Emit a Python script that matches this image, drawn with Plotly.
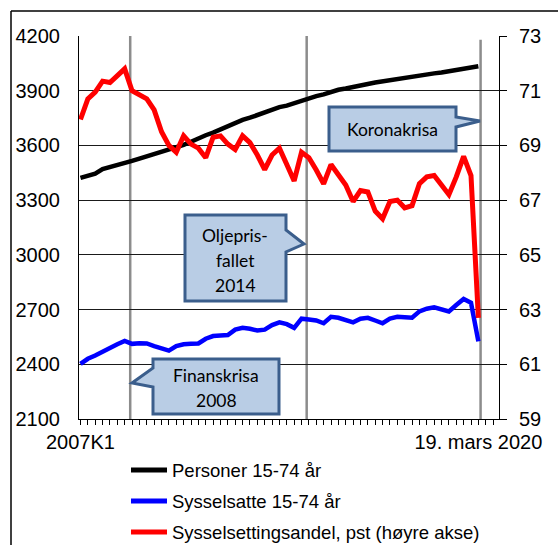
import plotly.graph_objects as go

# ---------------- data ----------------
x_index = list(range(55))
x_tick_labels = {0: "2007K1", 54: "19. mars 2020"}

personer = [3422, 3432, 3445, 3470, 3480, 3492, 3506, 3515, 3528, 3540,
            3556, 3565, 3578, 3590, 3603, 3620, 3640, 3656, 3670, 3688,
            3705, 3728, 3740, 3752, 3768, 3780, 3796, 3810, 3818, 3832,
            3845, 3858, 3870, 3880, 3893, 3905, 3912, 3922, 3930, 3937,
            3945, 3952, 3958, 3965, 3972, 3978, 3983, 3988, 3995, 4000,
            4008, 4015, 4020, 4028, 4034]

sysselsatte = [2402, 2430, 2448, 2470, 2486, 2510, 2528, 2512, 2515, 2514,
               2500, 2488, 2475, 2500, 2510, 2512, 2514, 2540, 2555, 2558,
               2560, 2590, 2600, 2595, 2585, 2590, 2615, 2630, 2620, 2600,
               2650, 2645, 2640, 2625, 2660, 2655, 2645, 2630, 2650, 2655,
               2640, 2625, 2650, 2660, 2658, 2655, 2690, 2705, 2712, 2700,
               2690, 2725, 2758, 2737, 2526]

andel = [69.95, 70.7, 70.95, 71.35, 71.3, 71.55, 71.8, 71.0, 70.85, 70.7,
         70.3, 69.5, 69.0, 68.75, 69.35, 69.05, 68.9, 68.55, 69.3, 69.35,
         69.05, 68.85, 69.35, 69.1, 68.65, 68.12, 68.65, 68.9, 68.3, 67.7,
         68.75, 68.55, 68.1, 67.6, 68.3, 67.95, 67.55, 66.95, 67.35, 67.3,
         66.6, 66.32, 66.95, 67.0, 66.72, 66.8, 67.6, 67.85, 67.9, 67.55,
         67.2, 67.85, 68.6, 67.9, 62.7]

series_names = ["Personer 15-74 år", "Sysselsatte 15-74 år",
                "Sysselsettingsandel, pst (høyre akse)"]
series_colors = ["#000000", "#0000FF", "#FF0000"]

left_ticks = [2100, 2400, 2700, 3000, 3300, 3600, 3900, 4200]
right_ticks = [59, 61, 63, 65, 67, 69, 71, 73]

event_positions = [6.75, 30.7, 54.3]   # Finanskrisa, Oljeprisfallet, Koronakrisa

# ---------------- layout geometry ----------------
W, H = 558, 545
ML, MR, MT, MB = 79, 59, 36, 126
PW, PH = W - ML - MR, H - MT - MB


def px(x):
    return (x - ML) / PW


def py(y):
    return (H - MB - y) / PH


def path(points):
    s = "M " + " L ".join(f"{px(a):.5f},{py(b):.5f}" for a, b in points) + " Z"
    return s


fig = go.Figure()
fig.add_trace(go.Scatter(x=x_index, y=personer, name=series_names[0], mode="lines",
                         line=dict(color=series_colors[0], width=4.5)))
fig.add_trace(go.Scatter(x=x_index, y=sysselsatte, name=series_names[1], mode="lines",
                         line=dict(color=series_colors[1], width=4.5)))
fig.add_trace(go.Scatter(x=x_index, y=andel, name=series_names[2], mode="lines",
                         line=dict(color=series_colors[2], width=5), yaxis="y2"))

shapes = []
# event lines
for i, xe in enumerate(event_positions):
    shapes.append(dict(type="line", xref="x", yref="paper", x0=xe, x1=xe,
                       y0=0, y1=1 if i < 2 else 0.99,
                       line=dict(color="#8C8C8C", width=2.5), layer="between"))

box_fill = "#B9CDE5"
box_line = dict(color="#3B5E8C", width=3)
# Koronakrisa callout
shapes.append(dict(type="path", xref="paper", yref="paper", fillcolor=box_fill, line=box_line,
                   path=path([(329, 107), (456, 107), (456, 117), (480, 121),
                              (456, 127), (456, 151), (329, 151)])))
# Oljeprisfallet callout
shapes.append(dict(type="path", xref="paper", yref="paper", fillcolor=box_fill, line=box_line,
                   path=path([(185, 215), (286, 215), (286, 230), (304, 244),
                              (286, 252), (286, 301), (185, 301)])))
# Finanskrisa callout
shapes.append(dict(type="path", xref="paper", yref="paper", fillcolor=box_fill, line=box_line,
                   path=path([(153, 359), (279, 359), (279, 414), (153, 414),
                              (153, 387), (132, 383), (153, 368)])))
# outer frame
shapes.append(dict(type="line", xref="paper", yref="paper", x0=px(11), x1=px(558),
                   y0=py(11), y1=py(11), line=dict(color="black", width=1.5)))
shapes.append(dict(type="line", xref="paper", yref="paper", x0=px(11), x1=px(11),
                   y0=py(11), y1=py(545), line=dict(color="black", width=1.5)))

callout_font = dict(family="Lato, Calibri, sans-serif", size=17.5, color="#000000")
annotations = []
for txt, cx, cy in [("Koronakrisa", 392, 129),
                    ("Oljepris-", 235, 235), ("fallet", 235, 260), ("2014", 235, 285),
                    ("Finanskrisa", 216, 375), ("2008", 216, 400)]:
    annotations.append(dict(text=txt, x=px(cx), y=py(cy), xref="paper", yref="paper",
                            showarrow=False, xanchor="center", yanchor="middle",
                            font=callout_font))

# legend (drawn manually so the sample line length matches)
legend_font = dict(family="Liberation Sans, Arial, sans-serif", size=18.5, color="#000000")
for name, color, row_y in zip(series_names, series_colors, [470, 501, 532]):
    shapes.append(dict(type="line", xref="paper", yref="paper",
                       x0=px(131), x1=px(167), y0=py(row_y), y1=py(row_y),
                       line=dict(color=color, width=5)))
    annotations.append(dict(text=name, x=px(170), y=py(row_y), xref="paper", yref="paper",
                            showarrow=False, xanchor="left", yanchor="middle",
                            font=legend_font))

axis_font = dict(family="Liberation Sans, Arial, sans-serif", size=20, color="#000000")

fig.update_layout(
    width=W, height=H,
    margin=dict(l=ML, r=MR, t=MT, b=MB, pad=0, autoexpand=False),
    paper_bgcolor="white", plot_bgcolor="white",
    shapes=shapes, annotations=annotations,
    showlegend=False,
    xaxis=dict(range=[-0.2, 56.8], tickmode="array",
               tickvals=list(range(57)),
               ticktext=[x_tick_labels.get(i, "") for i in range(57)],
               ticks="outside", ticklen=5, tickcolor="black", tickwidth=1,
               showline=True, linecolor="black", linewidth=1,
               showgrid=False, zeroline=False, tickfont=axis_font,
               tickangle=0),
    yaxis=dict(range=[2100, 4200], tickmode="array", tickvals=left_ticks,
               showgrid=True, gridcolor="#1A1A1A", gridwidth=1,
               showline=True, linecolor="black", linewidth=1,
               ticks="", zeroline=False, tickfont=axis_font,
               ticklabelstandoff=14),
    yaxis2=dict(range=[59, 73], tickmode="array", tickvals=right_ticks,
                overlaying="y", side="right", showgrid=False,
                showline=True, linecolor="black", linewidth=1,
                ticks="outside", ticklen=7, tickcolor="black",
                zeroline=False, tickfont=axis_font, ticklabelstandoff=8),
)

fig.write_html("out.html", config={"displayModeBar": False},
               post_script="document.body.style.margin='0';document.body.style.padding='0';")
